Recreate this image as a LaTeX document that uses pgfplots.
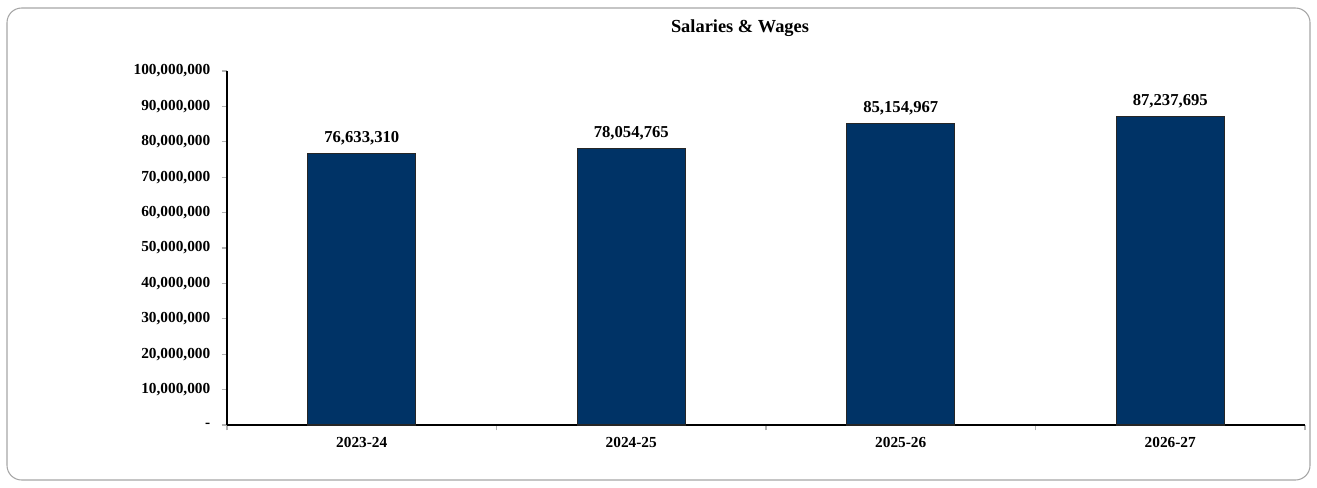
\documentclass[border=0pt]{standalone}
\usepackage{pgfplots}
\pgfplotsset{compat=1.18}
\usepackage{fontspec}
\setmainfont{Liberation Serif}
\definecolor{barnavy}{HTML}{003366}
\definecolor{frame}{HTML}{A6A6A6}

\begin{document}
\begin{tikzpicture}[x=0.75pt,y=0.75pt]
% page and rounded chart frame (1 px = 0.75pt, y measured from the bottom)
\useasboundingbox (0,0) rectangle (1317,487);
\draw[frame, line width=0.8pt, rounded corners=11pt] (7,7) rectangle (1310,479);
\node[font=\fontsize{13.8}{16}\selectfont\bfseries] at (740,459) {Salaries \& Wages};
\begin{axis}[
    at={(170.25pt,46.5pt)}, anchor=south west,
    scale only axis,
    width=808.5pt, height=265.5pt,
    ybar, bar width=81pt,
    xmin=-0.5, xmax=3.5,
    ymin=0, ymax=100000000,
    axis x line*=bottom,
    axis y line*=left,
    axis line style={line width=0.9pt},
    xtick={-0.5,0.5,1.5,2.5,3.5},
    xticklabels={},
    x tick style={draw=gray!60, line width=0.8pt},
    extra x ticks={0,1,2,3},
    extra x tick labels={2023-24,2024-25,2025-26,2026-27},
    extra x tick style={major tick length=0pt, tick style={draw=none}, xticklabel style={yshift=-5.5pt}},
    ytick={0,10000000,20000000,30000000,40000000,50000000,60000000,70000000,80000000,90000000,100000000},
    yticklabels={{-},{10,000,000},{20,000,000},{30,000,000},{40,000,000},{50,000,000},{60,000,000},{70,000,000},{80,000,000},{90,000,000},{100,000,000}},
    y tick style={draw=gray!60, line width=0.8pt},
    tick align=outside,
    major tick length=4pt,
    ticklabel style={font=\fontsize{11.5}{13}\selectfont\bfseries},
    yticklabel style={xshift=-5pt},
    scaled y ticks=false,
    point meta=explicit symbolic,
    nodes near coords,
    every node near coord/.append style={font=\fontsize{12.5}{14}\selectfont\bfseries, yshift=2.5pt},
    clip=false,
]
\addplot[fill=barnavy, draw=black!85, line width=0.8pt] table[x=x, y=y, meta=lab] {
x y lab
0 76633310 76,633,310
1 78054765 78,054,765
2 85154967 85,154,967
3 87237695 87,237,695
};
\end{axis}
\end{tikzpicture}
\end{document}
